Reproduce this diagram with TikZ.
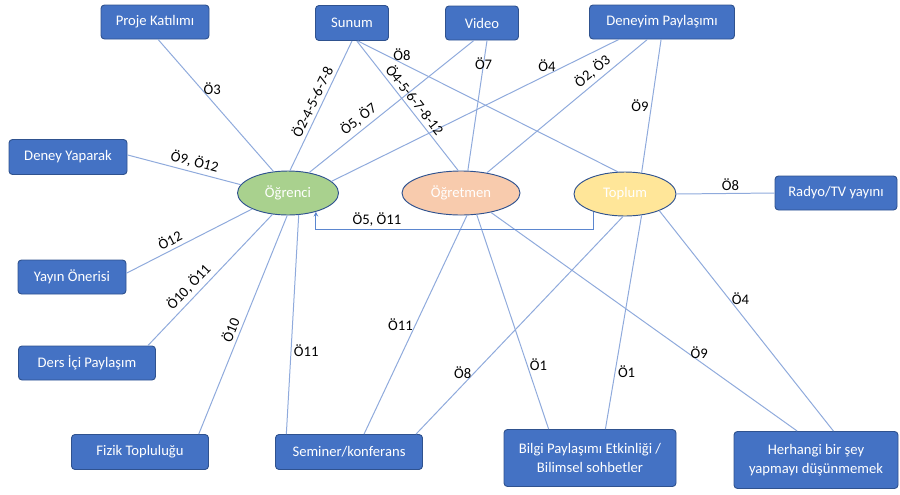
\documentclass[tikz,border=0pt]{standalone}
\usepackage{fontspec}
\setmainfont{Carlito}
\usetikzlibrary{shapes.geometric,arrows.meta}
\definecolor{boxBlue}{HTML}{4472C4}
\definecolor{boxEdge}{HTML}{2F528F}
\definecolor{lineBlue}{HTML}{8FAADC}
\definecolor{elbowBlue}{HTML}{5B86CF}
\definecolor{ovalGreen}{HTML}{A9D18E}
\definecolor{ovalPeach}{HTML}{F8CBAD}
\definecolor{ovalYellow}{HTML}{FFE699}

\begin{document}
\begin{tikzpicture}
[x=0.03cm,y=-0.03cm,
  boxDecorate/.style={draw=boxEdge,fill=boxBlue,text=white,rounded corners=3pt,
    line width=0.8pt,align=center,inner sep=0pt,font=\fontsize{12.5}{16}\selectfont},
  ovalDecorate/.style={shape=ellipse,draw=boxEdge,line width=0.8pt,text=white,
    inner sep=0pt,minimum height=1.32cm,font=\fontsize{12.5}{15}\selectfont},
  lineDecorate/.style={-,draw=lineBlue,line width=0.85pt},
  labelDecorate/.style={inner sep=2pt,font=\fontsize{12.5}{15}\selectfont},
  onLine/.style={}]
\useasboundingbox (0,0) rectangle (900,494);
%% boxes
\foreach \nodename/\x/\y/\w/\h/\txt in {
  proje/155/22/108/34/{Proje Katılımı}, sunum/352/23/73/35/{Sunum},
  video/482/23/73/34/{Video}, deneyim/662/22/145/34/{Deneyim Paylaşımı},
  deney/68/157/118/35/{Deney Yaparak}, radyo/836/193/122/34/{Radyo/TV yayını},
  yayin/72/277/108/34/{Yayın Önerisi}, ders/87/363/137/34/{Ders İçi Paylaşım},
  fizik/140/452/137/35/{Fizik Topluluğu}, seminer/349/452/147/35/{Seminer/konferans},
  bilgi/590/458/172/57/{Bilgi Paylaşımı Etkinliği /\\ Bilimsel sohbetler},
  herhangi/816/460/164/57/{Herhangi bir şey\\ yapmayı düşünmemek}}
{
  \node (\nodename) at (\x,\y) [boxDecorate,minimum width=\w*0.03cm,minimum height=\h*0.03cm] {\txt};
}
%% groups
\node (ogrenci) at (288,193) [ovalDecorate,fill=ovalGreen,minimum width=3.03cm] {Öğrenci};
\node (ogretmen) at (461,193) [ovalDecorate,fill=ovalPeach,minimum width=3.54cm] {Öğretmen};
\node (toplum) at (625,194) [ovalDecorate,fill=ovalYellow,minimum width=3.06cm] {Toplum};
%% straight labels
\path
\foreach \startnode/\startangle/\endnode/\endangle/\where/\side/\txt in {
  proje/-80/ogrenci/124/.37/right/{Ö3}, deneyim/-158/ogrenci/15/.25/above/{Ö4},
  sunum/-72/toplum/108/.17/above/{Ö8}, video/-74/ogretmen/73/.18/onLine/{Ö7},
  deneyim/-93/toplum/52/.5/left/{Ö9}, toplum/0/radyo/180/.55/above/{Ö8},
  ogrenci/-64/seminer/164/.62/right/{Ö11}, ogretmen/-75/seminer/50/.5/left/{Ö11},
  ogretmen/-54/bilgi/145/.7/right/{Ö1}, ogretmen/-33/herhangi/123/.68/above/{Ö9},
  toplum/-95/seminer/15/.72/left/{Ö8}, toplum/-52/bilgi/62/.73/right/{Ö1},
  toplum/-26/herhangi/59/.4/right/{Ö4}}
{
  (\startnode.\startangle) edge[lineDecorate] node[labelDecorate,pos=\where,\side] {\txt} (\endnode.\endangle)
};
%% sloped labels
\path
\foreach \startnode/\startangle/\endnode/\endangle/\where/\txt in {
  deney/2/ogrenci/170/.57/{Ö9, Ö12}, sunum/-90/ogrenci/85/.5/{Ö2-4-5-6-7-8},
  video/-115/ogrenci/44/.66/{Ö5, Ö7}, sunum/-75/ogretmen/97/.5/{Ö4-5-6-7-8-12},
  deneyim/-130/ogretmen/38/.3/{Ö2, Ö3}, ogrenci/-156/yayin/4/.62/{Ö12},
  ogrenci/-126/ders/16/.61/{Ö10, Ö11}, ogrenci/-92/fizik/17/.54/{Ö10}}
{
  (\startnode.\startangle) edge[lineDecorate] node[labelDecorate,pos=\where,sloped,above,inner sep=3pt] {\txt} (\endnode.\endangle)
};
%% elbow back to students
\draw[lineDecorate,draw=elbowBlue,-{Stealth[length=4pt,width=4pt]}]
  (toplum.-151) -- ++(0,18) -| node[labelDecorate,pos=.39,above] {Ö5, Ö11} (ogrenci.-34);
\end{tikzpicture}
\end{document}
